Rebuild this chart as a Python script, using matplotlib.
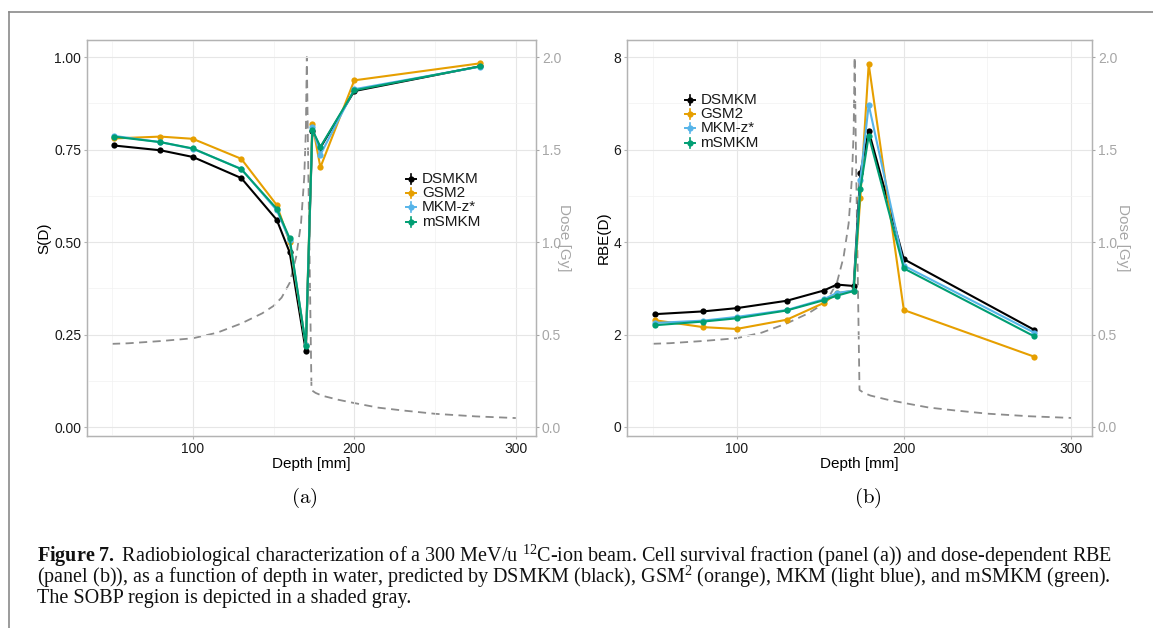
import numpy as np
import matplotlib.pyplot as plt
from matplotlib.lines import Line2D

plt.rcParams['font.family'] = ['Liberation Sans', 'DejaVu Sans']
plt.rcParams['mathtext.fontset'] = 'custom'
plt.rcParams['mathtext.rm'] = 'Liberation Serif'
plt.rcParams['mathtext.it'] = 'Liberation Serif:italic'
plt.rcParams['mathtext.bf'] = 'Liberation Serif:bold'

# profundidades dos pontos calculados [mm]
depth = [51, 80, 100, 130, 152, 160, 170, 174, 179, 200, 278]

# fracao de sobrevivencia S(D)
s_dsmkm = [0.761, 0.748, 0.730, 0.673, 0.560, 0.472, 0.205, 0.800, 0.755, 0.908, 0.975]
s_gsm2 = [0.780, 0.785, 0.779, 0.725, 0.600, 0.500, 0.222, 0.820, 0.702, 0.937, 0.983]
s_mkmz = [0.787, 0.770, 0.752, 0.698, 0.586, 0.505, 0.222, 0.812, 0.736, 0.913, 0.974]
s_msmkm = [0.785, 0.770, 0.753, 0.697, 0.590, 0.510, 0.220, 0.804, 0.757, 0.910, 0.975]

# RBE(D)
rbe_dsmkm = [2.44, 2.50, 2.57, 2.73, 2.95, 3.08, 3.05, 5.50, 6.40, 3.63, 2.10]
rbe_gsm2 = [2.31, 2.16, 2.12, 2.32, 2.68, 2.89, 2.95, 4.95, 7.85, 2.53, 1.52]
rbe_mkmz = [2.25, 2.30, 2.38, 2.53, 2.76, 2.90, 2.95, 5.35, 6.97, 3.49, 2.04]
rbe_msmkm = [2.20, 2.28, 2.35, 2.52, 2.74, 2.84, 2.94, 5.15, 6.30, 3.43, 1.96]

# perfil de dose (SOBP) [Gy]
dose_depth = [50, 60, 80, 100, 115, 130, 143, 150, 155, 160, 164, 167, 169, 170, 170.6,
              171.5, 172.5, 173.5, 176, 180, 190, 200, 215, 230, 250, 275, 300]
dose_gy = [0.45, 0.453, 0.465, 0.48, 0.51, 0.56, 0.615, 0.655, 0.70, 0.78, 0.92, 1.10, 1.35, 1.6, 2.0,
           1.4, 0.8, 0.2, 0.185, 0.17, 0.148, 0.13, 0.105, 0.09, 0.072, 0.058, 0.049]

modelos = ['DSMKM', 'GSM2', 'MKM-z*', 'mSMKM']
cores = ['#000000', '#E69F00', '#56B4E9', '#009E73']

W, H = 1153, 628
fig = plt.figure(figsize=(W / 100, H / 100), dpi=100)


def fx(px):
    return px / W


def fy(py):
    return 1 - py / H


def painel(left, right, series, ylim, yticks, ylabels, ylab, fator):
    ax = fig.add_axes([fx(left), fy(436), fx(right) - fx(left), fy(40) - fy(436)])
    ax2 = ax.twinx()
    # dose atras das curvas
    ax.set_zorder(ax2.get_zorder() + 1)
    ax.patch.set_visible(False)
    ax2.patch.set_facecolor('white')

    ax2.plot(dose_depth, dose_gy, color='#8c8c8c', lw=1.3, dashes=(4.5, 3))
    ax2.set_ylim(ylim[0] / fator, ylim[1] / fator)
    ax2.set_yticks([0, 0.5, 1.0, 1.5, 2.0])
    ax2.set_yticklabels(['0.0', '0.5', '1.0', '1.5', '2.0'])
    ax2.tick_params(axis='y', colors='#a6a6a6', labelsize=10, length=2.2, width=0.8, pad=2)

    for vals, c in zip(series, cores):
        ax.plot(depth, vals, color=c, lw=1.5, marker='o', ms=4.5, mew=0)

    ax.set_xlim(34.5, 312.5)
    ax.set_ylim(*ylim)
    ax.set_xticks([100, 200, 300])
    ax.set_xticks([50, 150, 250], minor=True)
    ax.set_yticks(yticks)
    ax.set_yticks([(a + b) / 2 for a, b in zip(yticks[:-1], yticks[1:])], minor=True)
    ax.set_yticklabels(ylabels)
    ax.grid(which='major', color='#e6e6e6', lw=0.8)
    ax.grid(which='minor', color='#f2f2f2', lw=0.5)
    ax.set_axisbelow(True)
    ax.tick_params(which='major', colors='#b3b3b3', labelcolor='#1a1a1a', labelsize=10,
                   length=2.2, width=0.8, pad=2)
    ax.tick_params(which='minor', length=0)
    for a in (ax, ax2):
        for s in a.spines.values():
            s.set_color('#b3b3b3')
            s.set_linewidth(0.9)
    ax.set_xlabel('Depth [mm]', fontsize=11, labelpad=1)
    ax.set_ylabel(ylab, fontsize=11, labelpad=2)
    return ax


ax_a = painel(87, 536, [s_dsmkm, s_gsm2, s_mkmz, s_msmkm], (-0.024, 1.046),
              [0, 0.25, 0.5, 0.75, 1.0], ['0.00', '0.25', '0.50', '0.75', '1.00'], 'S(D)', 0.5)
ax_b = painel(627, 1092, [rbe_dsmkm, rbe_gsm2, rbe_mkmz, rbe_msmkm], (-0.195, 8.37),
              [0, 2, 4, 6, 8], ['0', '2', '4', '6', '8'], 'RBE(D)', 4)

# titulo do eixo secundario
for xp in (564, 1123):
    fig.text(fx(xp), fy(238), 'Dose [Gy]', rotation=270, color='#a6a6a6', fontsize=11,
             ha='center', va='center')


# legendas com chave em cruz
def legenda(xk, y0):
    for i, (nome, c) in enumerate(zip(modelos, cores)):
        y = y0 + i * 14.2
        fig.add_artist(Line2D([fx(xk - 5), fx(xk + 5)], [fy(y), fy(y)], color=c, lw=1.4))
        fig.add_artist(Line2D([fx(xk), fx(xk)], [fy(y - 5), fy(y + 5)], color=c, lw=1.2))
        fig.add_artist(Line2D([fx(xk)], [fy(y)], color=c, marker='o', ms=4.5, mew=0))
        fig.text(fx(xk + 11), fy(y), nome, fontsize=11, color='#1a1a1a', va='center', ha='left')


legenda(411, 179)
legenda(689.5, 100)

# rotulos dos paineis
fig.text(fx(304), fy(498), r'$\mathrm{(a)}$', math_fontfamily='cm', fontsize=15, ha='center', va='center')
fig.text(fx(868), fy(498), r'$\mathrm{(b)}$', math_fontfamily='cm', fontsize=15, ha='center', va='center')

# legenda da figura
linhas = [
    r'$\mathbf{Figure\ 7.}$ Radiobiological characterization of a 300 MeV/u $^{12}$C-ion beam. '
    r'Cell survival fraction (panel (a)) and dose-dependent RBE',
    r'(panel (b)), as a function of depth in water, predicted by DSMKM (black), GSM$^2$ (orange), '
    r'MKM (light blue), and mSMKM (green).',
    'The SOBP region is depicted in a shaded gray.',
]
for i, t in enumerate(linhas):
    fig.text(fx(37), fy(562 + i * 20.5), t, family='Liberation Serif', fontsize=14.5,
             ha='left', va='baseline', color='#111111')

# moldura
fig.add_artist(Line2D([fx(9), fx(9)], [fy(12), fy(640)], color='#8a8a8a', lw=1.2))
fig.add_artist(Line2D([fx(9), fx(1160)], [fy(12), fy(12)], color='#8a8a8a', lw=1.2))

fig.savefig('out.png', dpi=100)
